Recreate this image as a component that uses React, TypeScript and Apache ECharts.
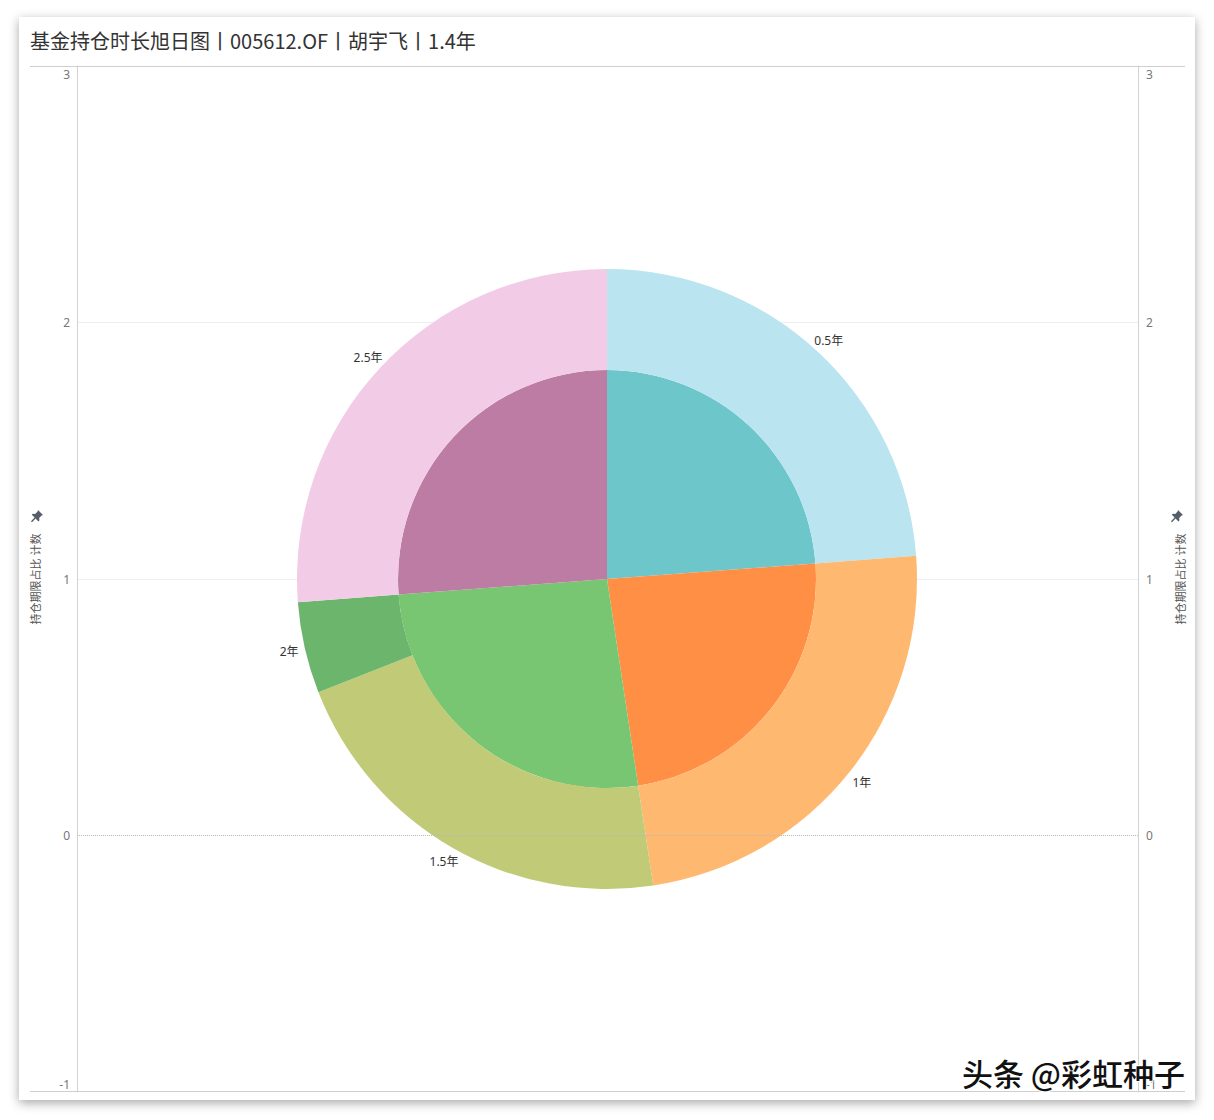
import React, { useEffect, useRef } from 'react';
import * as echarts from 'echarts';

const titleText = '基金持仓时长旭日图丨005612.OF丨胡宇飞丨1.4年';
const axisTitle = '持仓期限占比 计数';
const watermark = '头条 @彩虹种子';
const yTicks = [-1, 0, 1, 2, 3];

// inner pie: grouped holding periods
const innerGroups = ['0.5年', '1年', '1.5-2年', '2.5年'];
const innerCounts = [10, 10, 11, 11];
const innerColors = ['#6dc6ca', '#ff8f44', '#78c672', '#bd7ca4'];

// outer ring: each holding period
const outerPeriods = ['0.5年', '1年', '1.5年', '2年', '2.5年'];
const outerCounts = [10, 10, 9, 2, 11];
const outerColors = ['#bbe4f1', '#ffb870', '#c1ca76', '#6cb56d', '#f2cce7'];

const FONT = '"Noto Sans", "Noto Sans CJK SC", sans-serif';
const PIN = 'M7 0 L12 5 L10.6 5.6 L8.2 8 L8.4 10.4 L7.4 11.4 L4.6 8.6 L1 12.2 L0 11.2 L3.6 7.6 L0.8 4.8 L1.8 3.8 L4.2 4 L6.6 1.6 Z';

echarts.graphic.registerShape('pin', echarts.graphic.extendPath(PIN, {}));

const App: React.FC = () => {
  const chartRef = useRef<HTMLDivElement>(null);

  useEffect(() => {
    if (!chartRef.current) return;
    const chart = echarts.init(chartRef.current, null, { renderer: 'svg' });

    const yMin = Math.min(...yTicks);
    const yMax = Math.max(...yTicks);
    const tickLabel = (v: number) =>
      v === yMax ? `{top|${v}}` : v === yMin ? `{bot|${v}}` : `${v}`;
    const labelRich = {
      top: { padding: [16, 0, 0, 0], fontSize: 12, color: '#777', fontFamily: FONT },
      bot: { padding: [0, 0, 16, 0], fontSize: 12, color: '#777', fontFamily: FONT },
    };
    const baseY = {
      type: 'value' as const,
      min: yMin,
      max: yMax,
      interval: 1,
      name: axisTitle,
      nameLocation: 'middle' as const,
      nameRotate: 90,
      nameTextStyle: { fontSize: 11, color: '#555', fontFamily: FONT },
      axisLine: { show: true, lineStyle: { color: '#d2d2d2', width: 1 } },
      axisTick: { show: false },
      axisLabel: {
        fontSize: 12,
        color: '#777',
        fontFamily: FONT,
        formatter: tickLabel,
        rich: labelRich,
      },
    };

    chart.setOption({
      animation: false,
      grid: { left: 77, right: 76, top: 66, bottom: 28 },
      xAxis: { type: 'value', min: 0, max: 1, show: false },
      yAxis: [
        {
          ...baseY,
          position: 'left',
          nameGap: 36,
          axisLabel: { ...baseY.axisLabel, margin: 7 },
          splitLine: {
            show: true,
            lineStyle: {
              color: ['rgba(0,0,0,0)', 'rgba(0,0,0,0)', '#eeeeee', '#eeeeee', 'rgba(0,0,0,0)'],
            },
          },
        },
        {
          ...baseY,
          position: 'right',
          nameGap: 37,
          axisLabel: { ...baseY.axisLabel, margin: 8 },
          splitLine: { show: false },
        },
      ],
      graphic: [
        {
          type: 'text',
          left: 30,
          top: 30,
          style: { text: titleText, fontSize: 20, fill: '#333', fontFamily: '"Noto Sans CJK SC", sans-serif' },
        },
        { type: 'line', shape: { x1: 30, y1: 66.5, x2: 1185, y2: 66.5 }, style: { stroke: '#cfcfcf', lineWidth: 1 } },
        { type: 'line', shape: { x1: 30, y1: 1091.5, x2: 1185, y2: 1091.5 }, style: { stroke: '#cfcfcf', lineWidth: 1 } },
        { type: 'pin', x: 31, y: 510, scaleX: 1, scaleY: 1, style: { fill: '#555e68' } },
        { type: 'pin', x: 1171, y: 510, scaleX: 1, scaleY: 1, style: { fill: '#555e68' } },
        {
          type: 'text',
          right: 28,
          top: 1056,
          z: 100,
          style: {
            text: watermark,
            fontSize: 31,
            fontWeight: 500,
            fill: '#111',
            stroke: '#ffffff',
            lineWidth: 2,
            shadowColor: 'rgba(0,0,0,0.45)',
            shadowBlur: 2,
            shadowOffsetX: 1,
            shadowOffsetY: 1,
            fontFamily: '"Noto Sans CJK SC", sans-serif',
          },
        },
      ],
      series: [
        {
          type: 'scatter',
          data: [[0.5, yMin - 10]],
          symbolSize: 0,
          silent: true,
          markLine: {
            silent: true,
            symbol: 'none',
            label: { show: false },
            lineStyle: { color: '#b8b8b8', type: 'dotted', width: 1 },
            data: [{ yAxis: 0 }],
          },
        },
        {
          type: 'pie',
          center: ['50%', 579],
          radius: [0, 209],
          silent: true,
          label: { show: false },
          labelLine: { show: false },
          itemStyle: { borderWidth: 0 },
          data: innerGroups.map((name, i) => ({
            name,
            value: innerCounts[i],
            itemStyle: { color: innerColors[i] },
          })),
        },
        {
          type: 'pie',
          center: ['50%', 579],
          radius: [209, 310],
          silent: true,
          label: { show: false },
          labelLine: { show: false },
          itemStyle: { borderWidth: 0 },
          data: outerPeriods.map((name, i) => ({
            name,
            value: outerCounts[i],
            itemStyle: { color: outerColors[i] },
          })),
        },
        {
          type: 'pie',
          center: ['50%', 579],
          radius: [306, 340],
          silent: true,
          labelLine: { show: false },
          itemStyle: { color: 'rgba(0,0,0,0)', borderWidth: 0 },
          label: {
            show: true,
            position: 'inside',
            formatter: '{b}',
            fontSize: 12,
            color: '#333',
            fontFamily: FONT,
          },
          data: outerPeriods.map((name, i) => ({ name, value: outerCounts[i] })),
        },
      ],
    });

    return () => {
      chart.dispose();
    };
  }, []);

  return (
    <div style={{ position: 'fixed', left: 0, top: 0, width: 1214, height: 1120, background: '#fff', overflow: 'hidden' }}>
      <div
        style={{
          position: 'absolute',
          left: 19,
          top: 17,
          width: 1176,
          height: 1083,
          background: '#fff',
          boxShadow: '0 3px 10px rgba(0,0,0,0.35)',
        }}
      />
      <div ref={chartRef} style={{ position: 'absolute', left: 0, top: 0, width: 1214, height: 1120 }} />
    </div>
  );
};

export default App;
